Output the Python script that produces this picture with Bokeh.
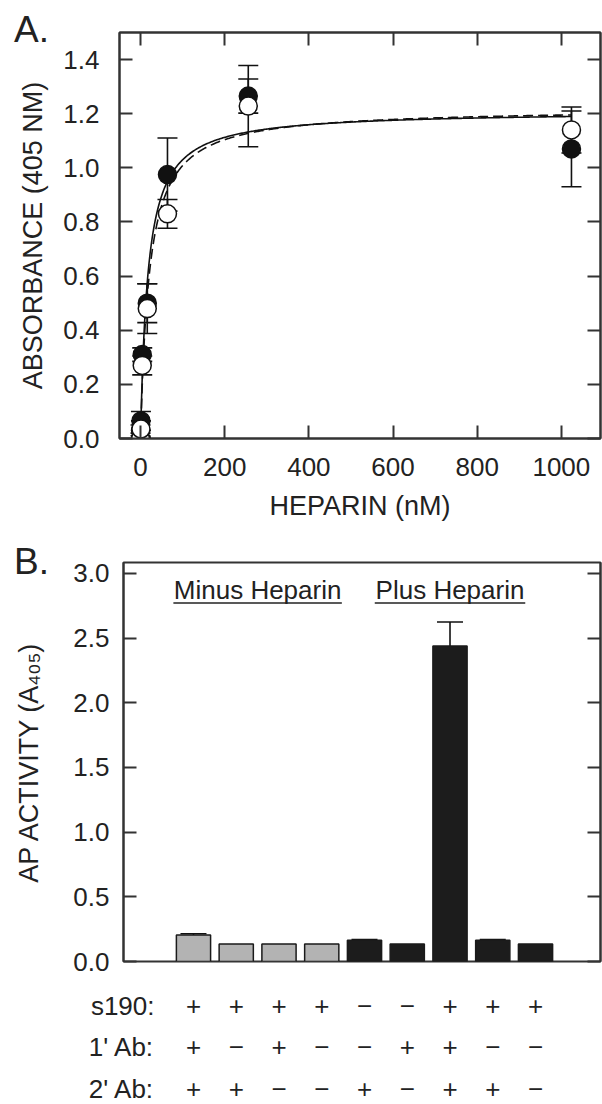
import numpy as np
from bokeh.plotting import figure
from bokeh.layouts import column, row
from bokeh.models import (ColumnDataSource, Whisker, TeeHead, FixedTicker,
                          PrintfTickFormatter, LinearAxis, Range1d)
from bokeh.core.properties import value
from bokeh.embed import file_html
from bokeh.resources import INLINE

FONT = "Liberation Sans"
TXT = "#222222"
AX = "#333333"

# ---------------- Panel A data ----------------
heparin_nM = [0, 1, 4, 16, 64, 256, 1024]
abs_filled = [0.03, 0.065, 0.31, 0.50, 0.975, 1.265, 1.07]
err_filled = [0.02, 0.035, 0.025, 0.072, 0.135, 0.063, 0.14]
abs_open = [0.0, 0.035, 0.27, 0.48, 0.83, 1.228, 1.14]
err_open = [0.02, 0.03, 0.035, 0.092, 0.053, 0.15, 0.085]
fit_solid_bmax, fit_solid_kd = 1.21, 17.5
fit_dashed_bmax, fit_dashed_kd = 1.22, 21.0
xticks_A = [0, 200, 400, 600, 800, 1000]
yticks_A = [0.0, 0.2, 0.4, 0.6, 0.8, 1.0, 1.2, 1.4]

# ---------------- Panel B data ----------------
conditions = [1, 2, 3, 4, 5, 6, 7, 8, 9]
ap_activity = [0.205, 0.135, 0.135, 0.135, 0.165, 0.135, 2.44, 0.165, 0.135]
ap_error = [0.01, 0.0, 0.0, 0.0, 0.005, 0.0, 0.185, 0.005, 0.0]
heparin_group = ["minus", "minus", "minus", "minus", "plus", "plus", "plus", "plus", "plus"]
s190 = ["+", "+", "+", "+", "\u2212", "\u2212", "+", "+", "+"]
ab1 = ["+", "\u2212", "+", "\u2212", "\u2212", "+", "+", "\u2212", "\u2212"]
ab2 = ["+", "+", "\u2212", "\u2212", "+", "\u2212", "+", "+", "\u2212"]
row_labels = ["s190:", "1' Ab:", "2' Ab:"]
yticks_B = [0.0, 0.5, 1.0, 1.5, 2.0, 2.5, 3.0]
group_labels = ["Minus Heparin", "Plus Heparin"]
group_first = [1, 5]
group_last = [4, 9]

PAGE_W = 602
STRIP_W = 52          # left strip holding the panel letter and the rotated axis title
HA, HB, HC = 535, 444, 125
A_TOP, A_BOT = 32, HA - 438
B_TOP, B_BOT = 562 - HA, HB - (961 - HA)


def style_axis(ax, ticks, fmt, labels=True, standoff=20, size="26px"):
    ax.ticker = FixedTicker(ticks=ticks)
    ax.formatter = PrintfTickFormatter(format=fmt)
    ax.axis_line_color = AX
    ax.axis_line_width = 2
    ax.major_tick_line_color = AX
    ax.major_tick_line_width = 2
    ax.major_tick_in = 13
    ax.major_tick_out = 0
    ax.minor_tick_line_color = None
    ax.major_label_text_font = FONT
    ax.major_label_text_color = TXT
    if labels:
        ax.major_label_standoff = standoff
        ax.major_label_text_font_size = size
    else:
        ax.major_label_standoff = 0
        ax.major_label_text_font_size = "0px"
        ax.major_label_text_alpha = 0


def strip(height, yr, top, bot, letter, letter_dy, title, title_x):
    """Narrow plot whose frame lines up with the panel's frame (shared y range)."""
    s = figure(width=STRIP_W, height=height, x_range=Range1d(0, STRIP_W), y_range=yr,
               output_backend="svg", toolbar_location=None,
               min_border_left=0, min_border_right=0, min_border_top=top, min_border_bottom=bot,
               x_axis_location=None, y_axis_location=None)
    s.grid.visible = False
    s.outline_line_color = None
    frame_h = height - top - bot
    per_px = (yr.end - yr.start) / frame_h
    s.text(x=[31], y=[yr.end + letter_dy * per_px], text=[letter], text_font=value(FONT),
           text_font_size="37px", text_color=TXT, text_align="center", text_baseline="middle",
           level="overlay")
    s.text(x=[title_x], y=[(yr.start + yr.end) / 2], text=[title], text_font=value(FONT),
           text_font_size="27px", text_color=TXT, text_align="center", text_baseline="middle",
           angle=np.pi / 2, level="overlay")
    return s


# ================= Panel A =================
pA = figure(width=PAGE_W - STRIP_W, height=HA, x_range=Range1d(-50, 1093), y_range=Range1d(0, 1.5),
            output_backend="svg", toolbar_location=None,
            min_border_left=67, min_border_right=2, min_border_top=A_TOP, min_border_bottom=A_BOT)
pA.grid.visible = False
pA.outline_line_color = AX
pA.outline_line_width = 2

style_axis(pA.xaxis[0], xticks_A, "%d", standoff=19)
style_axis(pA.yaxis[0], yticks_A, "%.1f", standoff=20)
pA.xaxis.axis_label = "HEPARIN (nM)"
pA.xaxis.axis_label_text_font = FONT
pA.xaxis.axis_label_text_font_size = "27px"
pA.xaxis.axis_label_text_font_style = "normal"
pA.xaxis.axis_label_text_color = TXT
pA.xaxis.axis_label_standoff = 12

topA = LinearAxis()
style_axis(topA, xticks_A, "%d", labels=False)
pA.add_layout(topA, "above")
rightA = LinearAxis()
style_axis(rightA, yticks_A, "%.1f", labels=False)
pA.add_layout(rightA, "right")

# fitted curves (one-site binding fits)
x_fit = np.concatenate([np.linspace(0, 20, 80), np.linspace(20, 1024, 400)[1:]])
pA.line(x_fit, fit_solid_bmax * x_fit / (fit_solid_kd + x_fit), line_color="#111111", line_width=1.6)
pA.line(x_fit, fit_dashed_bmax * x_fit / (fit_dashed_kd + x_fit), line_color="#111111",
        line_width=1.6, line_dash="10 5")

srcF = ColumnDataSource(dict(x=heparin_nM, y=abs_filled,
                             lo=[a - e for a, e in zip(abs_filled, err_filled)],
                             hi=[a + e for a, e in zip(abs_filled, err_filled)]))
srcO = ColumnDataSource(dict(x=heparin_nM, y=abs_open,
                             lo=[a - e for a, e in zip(abs_open, err_open)],
                             hi=[a + e for a, e in zip(abs_open, err_open)]))
for src in (srcO, srcF):
    w = Whisker(base="x", upper="hi", lower="lo", source=src, dimension="height",
                line_color="#111111", line_width=1.6, level="underlay",
                upper_head=TeeHead(size=20, line_color="#111111", line_width=1.6),
                lower_head=TeeHead(size=20, line_color="#111111", line_width=1.6))
    pA.add_layout(w)

pA.scatter("x", "y", source=srcF, marker="circle", size=18, fill_color="#111111",
           line_color="#111111", line_width=1.5)
pA.scatter("x", "y", source=srcO, marker="circle", size=18, fill_color="white",
           line_color="#111111", line_width=1.5)

sA = strip(HA, pA.y_range, A_TOP, A_BOT, "A.", 3.5, "ABSORBANCE (405 NM)", 32)

# ================= Panel B =================
B_X0, B_X1 = -0.637, 10.52
B_LEFT, B_RIGHT = 71, 2
pB = figure(width=PAGE_W - STRIP_W, height=HB, x_range=Range1d(B_X0, B_X1), y_range=Range1d(0, 3.085),
            output_backend="svg", toolbar_location=None,
            min_border_left=B_LEFT, min_border_right=B_RIGHT, min_border_top=B_TOP, min_border_bottom=B_BOT)
pB.grid.visible = False
pB.outline_line_color = AX
pB.outline_line_width = 2
pB.xaxis.visible = False
style_axis(pB.yaxis[0], yticks_B, "%.1f", standoff=14)
rightB = LinearAxis()
style_axis(rightB, yticks_B, "%.1f", labels=False)
pB.add_layout(rightB, "right")

colors = ["#b3b3b3" if g == "minus" else "#1c1c1c" for g in heparin_group]
srcB = ColumnDataSource(dict(x=conditions, top=ap_activity, color=colors))
errB = [(c, v, v + e) for c, v, e in zip(conditions, ap_activity, ap_error) if e > 0]
srcE = ColumnDataSource(dict(x=[r[0] for r in errB], lo=[r[1] for r in errB],
                             hi=[r[2] for r in errB]))
pB.add_layout(Whisker(base="x", upper="hi", lower="lo", source=srcE, dimension="height",
                      line_color="#111111", line_width=1.6, level="underlay",
                      upper_head=TeeHead(size=26, line_color="#111111", line_width=1.6),
                      lower_head=None))
pB.vbar(x="x", top="top", bottom=0, width=0.8, source=srcB, fill_color="color",
        line_color="#1a1a1a", line_width=1.5)

gx = [(a + b) / 2 for a, b in zip(group_first, group_last)]
pB.text(x=gx, y=[2.87, 2.87], text=group_labels, text_font=value(FONT), text_font_size="26px",
        text_color=TXT, text_align="center", text_baseline="middle")
half_w = [1.97, 1.76]
pB.segment(x0=[c - h for c, h in zip(gx, half_w)], x1=[c + h for c, h in zip(gx, half_w)],
           y0=[2.771, 2.771], y1=[2.771, 2.771], line_color=TXT, line_width=1.5)

sB = strip(HB, pB.y_range, B_TOP, B_BOT, "B.", 1.0, "AP ACTIVITY (A\u2084\u2080\u2085)", 28)

# ================= Condition table (same x scale as panel B) =================
frame_w_B = PAGE_W - STRIP_W - B_LEFT - B_RIGHT
px_per_unit = frame_w_B / (B_X1 - B_X0)
C_X0 = B_X0 - (STRIP_W + B_LEFT) / px_per_unit
C_X1 = B_X1 + B_RIGHT / px_per_unit
ROW_PX = 41.5
C_TOP_PX = 26       # first row centre below the top of this strip
pC = figure(width=PAGE_W, height=HC, x_range=Range1d(C_X0, C_X1),
            y_range=Range1d((HC - C_TOP_PX) / ROW_PX, -C_TOP_PX / ROW_PX),
            output_backend="svg", toolbar_location=None, min_border=0,
            x_axis_location=None, y_axis_location=None)
pC.grid.visible = False
pC.outline_line_color = None
rows = [s190, ab1, ab2]
xs, ys, ts = [], [], []
for r, vals in enumerate(rows):
    for c, v in zip(conditions, vals):
        xs.append(c); ys.append(r); ts.append(v)
pC.text(x=xs, y=ys, text=ts, text_font=value(FONT), text_font_size="26px", text_color=TXT,
        text_align="center", text_baseline="middle")
pC.text(x=[0.088] * 3, y=[0, 1, 2], text=row_labels, text_font=value(FONT), text_font_size="26px",
        text_color=TXT, text_align="right", text_baseline="middle")

layout = column(row(sA, pA, spacing=0), row(sB, pB, spacing=0), pC, spacing=0)
open("out.html", "w").write(file_html(layout, INLINE))
